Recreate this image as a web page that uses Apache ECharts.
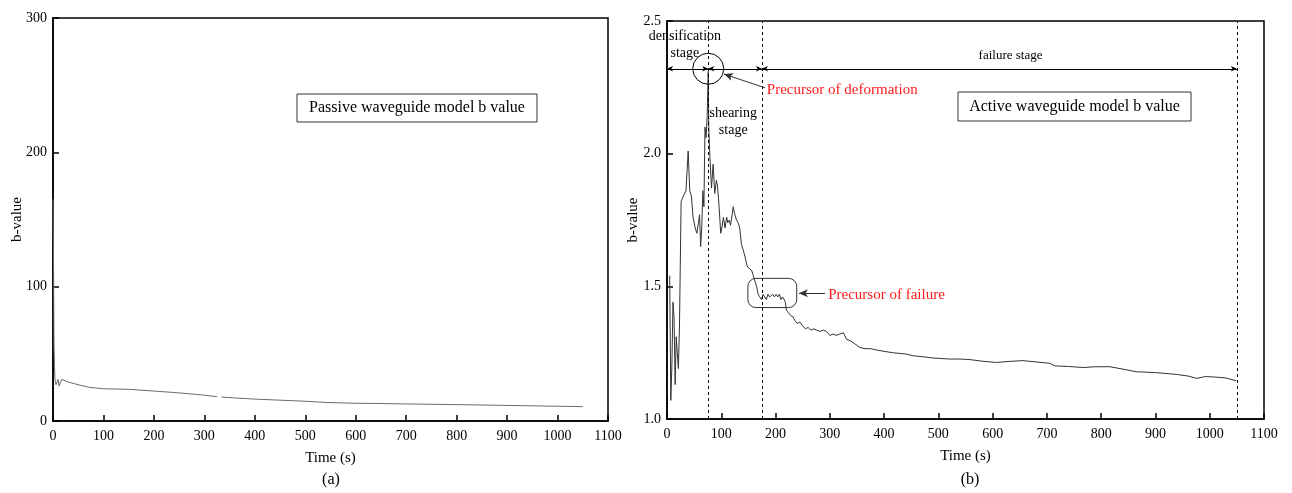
<!DOCTYPE html>
<html>
<head>
<meta charset="utf-8">
<script src="https://cdn.jsdelivr.net/npm/echarts@6/dist/echarts.min.js"></script>
<style>
  html, body { margin: 0; padding: 0; background: #fff; }
  #chart { width: 1292px; height: 493px; }
</style>
</head>
<body>
<div id="chart"></div>
<script>
// Passive waveguide model: time (s) and b-value
const passiveTime = [0, 1, 2, 3, 4, 6, 8, 10, 12, 14, 17, 20, 30, 40, 55, 73, 100, 150, 200, 240, 270, 300, 325, 331, 334, 360, 400, 450, 500, 541, 600, 650, 700, 800, 900, 980, 1050];
const passiveB    = [165, 120, 57, 40, 30, 27, 29, 31, 26, 25, 31, 30, 29, 28, 26.5, 25, 24, 23.6, 22.3, 21.2, 20.3, 19.2, 18.1, null, 17.8, 17.2, 16.3, 15.5, 14.7, 13.8, 13.2, 13.0, 12.7, 12.2, 11.6, 11.1, 10.7];

// Active waveguide model: time (s) and b-value
const activeTime = [5, 7, 9, 11, 13, 15, 17, 19, 21, 23, 26, 30, 35, 39, 42, 45, 48, 52, 55, 58, 60, 62, 64, 66, 68, 70, 72, 74, 76, 77, 79, 82, 85, 88, 91, 93, 96, 99, 101, 104, 107, 110, 112, 115, 117, 120, 122, 125, 128, 131, 134, 137, 140, 144, 147, 150, 153, 156, 159, 162, 165, 168, 171, 174, 177, 180, 183, 186, 189, 192, 195, 198, 201, 204, 207, 210, 213, 216, 218, 220, 224, 228, 232, 236, 240, 245, 250, 255, 260, 265, 270, 276, 282, 288, 294, 300, 306, 312, 318, 325, 331, 338, 345, 355, 365, 375, 386, 400, 415, 429, 440, 454, 470, 490, 520, 540, 558, 580, 607, 630, 656, 680, 700, 705, 715, 740, 767, 790, 816, 840, 865, 900, 939, 960, 976, 992, 1010, 1029, 1049];
const activeB    = [1.54, 1.07, 1.20, 1.44, 1.38, 1.13, 1.31, 1.25, 1.19, 1.35, 1.82, 1.84, 1.86, 2.01, 1.86, 1.84, 1.76, 1.72, 1.70, 1.74, 1.77, 1.65, 1.72, 1.86, 1.80, 2.10, 2.06, 2.14, 2.31, 2.10, 1.99, 1.87, 1.96, 1.85, 1.90, 1.88, 1.80, 1.70, 1.72, 1.76, 1.72, 1.76, 1.74, 1.75, 1.73, 1.77, 1.80, 1.77, 1.75, 1.74, 1.72, 1.66, 1.64, 1.61, 1.58, 1.57, 1.57, 1.56, 1.54, 1.52, 1.50, 1.47, 1.46, 1.45, 1.47, 1.46, 1.45, 1.47, 1.46, 1.46, 1.47, 1.46, 1.47, 1.46, 1.47, 1.45, 1.46, 1.45, 1.44, 1.41, 1.40, 1.39, 1.385, 1.37, 1.36, 1.365, 1.35, 1.34, 1.345, 1.335, 1.34, 1.335, 1.33, 1.335, 1.33, 1.315, 1.32, 1.315, 1.32, 1.325, 1.30, 1.295, 1.285, 1.27, 1.265, 1.265, 1.26, 1.255, 1.25, 1.247, 1.245, 1.238, 1.235, 1.23, 1.226, 1.226, 1.224, 1.218, 1.213, 1.217, 1.22, 1.215, 1.211, 1.21, 1.20, 1.198, 1.194, 1.197, 1.197, 1.188, 1.178, 1.175, 1.168, 1.162, 1.153, 1.16, 1.158, 1.155, 1.144];

// Stage boundaries (s) and the level of the stage arrows
const stageBounds = [0, 76, 175, 1050];
const stageArrowLevel = 2.32;

// Tick labels
const xTicks = [0, 100, 200, 300, 400, 500, 600, 700, 800, 900, 1000, 1100];
const passiveYTicks = [0, 100, 200, 300];
const activeYTicks = [1.0, 1.5, 2.0, 2.5];

const FONT = '"Liberation Serif", "Times New Roman", serif';

const chart = echarts.init(document.getElementById('chart'), null, { renderer: 'canvas' });

function xAxisCfg(gridIndex) {
  return {
    type: 'value', gridIndex, min: xTicks[0], max: xTicks[xTicks.length - 1], interval: 100,
    name: 'Time (s)', nameLocation: 'middle', nameGap: 30, nameMoveOverlap: false,
    nameTextStyle: { fontFamily: FONT, fontSize: 15, color: '#000' },
    axisLine: { onZero: false, lineStyle: { color: '#000', width: 1.5 } },
    axisTick: { inside: true, length: 6, lineStyle: { color: '#000', width: 1.5 } },
    axisLabel: { fontFamily: FONT, fontSize: 14, color: '#000', margin: 8, formatter: v => String(v) },
    splitLine: { show: false }
  };
}
function yAxisCfg(gridIndex, ticks, decimals, gap) {
  return {
    type: 'value', gridIndex, min: ticks[0], max: ticks[ticks.length - 1], interval: ticks[1] - ticks[0],
    name: 'b-value', nameLocation: 'middle', nameGap: gap, nameMoveOverlap: false,
    nameTextStyle: { fontFamily: FONT, fontSize: 15, color: '#000' },
    axisLine: { onZero: false, lineStyle: { color: '#000', width: 1.5 } },
    axisTick: { inside: true, length: 6, lineStyle: { color: '#000', width: 1.5 } },
    axisLabel: { fontFamily: FONT, fontSize: 14, color: '#000', margin: 6,
      formatter: v => v.toFixed(decimals) },
    splitLine: { show: false }
  };
}

const passiveData = passiveTime.map((t, i) => [t, passiveB[i] === null ? '-' : passiveB[i]]);
const activeData = activeTime.map((t, i) => [t, activeB[i]]);

const stageSegments = [];
for (let i = 0; i < stageBounds.length - 1; i++) {
  stageSegments.push([
    { coord: [stageBounds[i], stageArrowLevel] },
    { coord: [stageBounds[i + 1], stageArrowLevel] }
  ]);
}

chart.setOption({
  animation: false,
  backgroundColor: '#fff',
  grid: [
    { left: 53, top: 18, width: 555, height: 403, show: true, borderColor: '#000', borderWidth: 1.5, backgroundColor: 'transparent' },
    { left: 667, top: 21, width: 597, height: 398, show: true, borderColor: '#000', borderWidth: 1.5, backgroundColor: 'transparent' }
  ],
  xAxis: [xAxisCfg(0), xAxisCfg(1)],
  yAxis: [yAxisCfg(0, passiveYTicks, 0, 28), yAxisCfg(1, activeYTicks, 1, 26)],
  series: [
    {
      name: 'Passive', type: 'line', xAxisIndex: 0, yAxisIndex: 0, data: passiveData,
      showSymbol: false, connectNulls: false,
      lineStyle: { color: '#6a6a6a', width: 1 }
    },
    {
      name: 'Active', type: 'line', xAxisIndex: 1, yAxisIndex: 1, data: activeData,
      showSymbol: false,
      lineStyle: { color: '#333', width: 1 },
      markLine: {
        silent: true, symbol: 'none', animation: false,
        label: { show: false },
        lineStyle: { color: '#000', type: [3, 3], width: 1 },
        data: stageBounds.slice(1).map(v => ({ xAxis: v }))
      },
      markPoint: {
        silent: true, animation: false,
        data: [{
          coord: [76, stageArrowLevel], symbol: 'circle', symbolSize: 31,
          itemStyle: { color: 'rgba(0,0,0,0)', borderColor: '#000', borderWidth: 1 },
          label: { show: false }
        }]
      }
    },
    {
      name: 'Stages', type: 'line', xAxisIndex: 1, yAxisIndex: 1, data: [],
      markLine: {
        silent: true, animation: false, symbol: ['arrow', 'arrow'], symbolSize: [4, 6],
        label: { show: false },
        lineStyle: { color: '#000', type: 'solid', width: 1 },
        data: stageSegments
      }
    },
    {
      name: 'Precursors', type: 'line', xAxisIndex: 1, yAxisIndex: 1, data: [],
      markLine: {
        silent: true, animation: false, symbol: ['none', 'arrow'], symbolSize: [6, 9],
        label: { show: false },
        lineStyle: { color: '#333', type: 'solid', width: 1 },
        data: [
          [{ coord: [181, 2.248] }, { coord: [105, 2.30] }],
          [{ coord: [291, 1.474] }, { coord: [243, 1.474] }]
        ]
      }
    }
  ]
});

// Text and boxes placed through the axes' own scales
function px(t, b) { return chart.convertToPixel({ xAxisIndex: 1, yAxisIndex: 1 }, [t, b]); }
const txt = (x, y, text, extra) => ({
  type: 'text', x, y, silent: true,
  style: Object.assign({ text, font: '14px ' + FONT, fill: '#000', align: 'center', verticalAlign: 'middle', lineHeight: 17 }, extra || {})
});

const boxTL = px(149, 1.53), boxBR = px(239, 1.42);
const densPos = px(33, 2.41), shearPos = px(122, 2.12), failPos = px(633, 2.37);
const defTxt = px(184, 2.238), failTxt = px(297, 1.468);

chart.setOption({
  graphic: [
    {
      type: 'rect', silent: true,
      shape: { x: boxTL[0], y: boxTL[1], width: boxBR[0] - boxTL[0], height: boxBR[1] - boxTL[1], r: 8 },
      style: { fill: 'none', stroke: '#333', lineWidth: 1 }
    },
    txt(densPos[0], densPos[1], 'densification\nstage'),
    txt(shearPos[0], shearPos[1], 'shearing\nstage'),
    txt(failPos[0], failPos[1], 'failure stage', { font: '13px ' + FONT }),
    txt(defTxt[0], defTxt[1], 'Precursor of deformation', { align: 'left', fill: '#ff1a1a', font: '15px ' + FONT }),
    txt(failTxt[0], failTxt[1], 'Precursor of failure', { align: 'left', fill: '#ff1a1a', font: '15px ' + FONT }),
    // model name boxes
    {
      type: 'rect', silent: true, shape: { x: 297, y: 94, width: 240, height: 28 },
      style: { fill: '#fff', stroke: '#333', lineWidth: 1 }
    },
    txt(417, 108, 'Passive waveguide model b value', { font: '16px ' + FONT }),
    {
      type: 'rect', silent: true, shape: { x: 958, y: 92, width: 233, height: 29 },
      style: { fill: '#fff', stroke: '#333', lineWidth: 1 }
    },
    txt(1074.5, 106.5, 'Active waveguide model b value', { font: '16px ' + FONT }),
    // panel captions
    txt(331, 480, '(a)', { font: '16px ' + FONT }),
    txt(970, 480, '(b)', { font: '16px ' + FONT })
  ]
});
</script>
</body>
</html>
